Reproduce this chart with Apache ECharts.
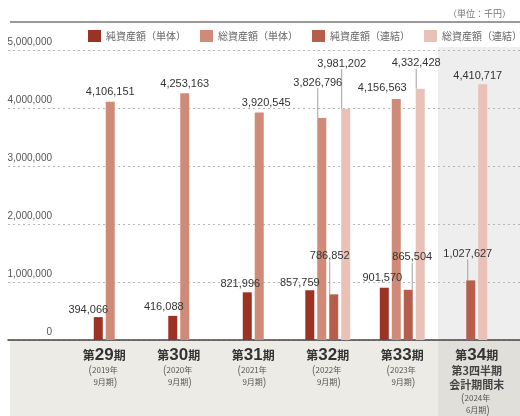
<!DOCTYPE html>
<html>
<head>
<meta charset="utf-8">
<title>純資産額・総資産額</title>
<script src="https://cdn.jsdelivr.net/npm/echarts@6/dist/echarts.min.js"></script>
<style>
  html, body { margin: 0; padding: 0; background: #fff; }
  #main { width: 520px; height: 416px; }
</style>
</head>
<body>
<div id="main"></div>
<script>
var periods = ['29', '30', '31', '32', '33', '34'];
var periodYears = ['2019年', '2020年', '2021年', '2022年', '2023年', '2024年'];
var periodMonths = ['9月期', '9月期', '9月期', '9月期', '9月期', '6月期'];
var periodNotes = ['', '', '', '', '', '第3四半期\n会計期間末'];
var seriesNames = ['純資産額（単体）', '総資産額（単体）', '純資産額（連結）', '総資産額（連結）'];
var netSingle = [394066, 416088, 821996, 857759, 901570, null];
var totalSingle = [4106151, 4253163, 3920545, 3826796, 4156563, null];
var netConsol = [null, null, null, 786852, 865504, 1027627];
var totalConsol = [null, null, null, 3981202, 4332428, 4410717];

var colors = ['#9c3224', '#cf8b78', '#b65d4b', '#e9c1b6'];

// label nudges [dx, dy] per series / period, and which get a guide line
var labelShift = [
    [[-10, 0], [-9, -1], [-7, -1], [-10, 0], [-2, -2], null],
    [[0, -2], [0, -2], [7, -2], [-4, -28], [-14, -3], null],
    [null, null, null, [-4, -31], [4, -25], [-3, -19]],
    [null, null, null, [-4, -38], [-4, -18], [-5, -1]]
];
var leaders = [
    [0, 0, 0, 0, 0, 0],
    [0, 0, 0, 1, 0, 0],
    [0, 0, 0, 1, 1, 1],
    [0, 0, 0, 1, 1, 0]
];

var fourSlot = periods.map(function (p, i) {
    return netSingle[i] != null && netConsol[i] != null;
});

function fmt(v) {
    return String(v).replace(/\B(?=(\d{3})+(?!\d))/g, ',');
}

function makeSeries(k, values, axis) {
    var shift = labelShift[k];
    var lead = leaders[k];
    return {
        type: 'bar',
        name: seriesNames[k],
        xAxisIndex: axis,
        yAxisIndex: 0,
        stack: axis === 0 ? (k % 2 === 0 ? 'net' : 'total') : undefined,
        barWidth: 9,
        barGap: '33%',
        itemStyle: { color: colors[k] },
        data: values.map(function (v, i) {
            return {
                value: fourSlot[i] === (axis === 1) ? v : null,
                labelLine: { show: !!lead[i] }
            };
        }),
        label: {
            show: true,
            position: 'top',
            distance: 2,
            color: '#333',
            fontSize: 11,
            fontFamily: 'Liberation Sans, sans-serif',
            formatter: function (p) { return fmt(p.value); }
        },
        labelLayout: function (p) {
            var s = shift[p.dataIndex] || [0, 0];
            return { dx: s[0], dy: s[1] };
        },
        labelLine: { lineStyle: { color: '#a0a0a0', width: 1 } }
    };
}

var valueLists = [netSingle, totalSingle, netConsol, totalConsol];
var series = [];
[0, 1].forEach(function (axis) {
    valueLists.forEach(function (vals, k) {
        series.push(makeSeries(k, vals, axis));
    });
});

var chart = echarts.init(document.getElementById('main'));

chart.setOption({
    animation: false,
    textStyle: { fontFamily: 'Noto Sans CJK JP, sans-serif' },
    title: {
        text: '（単位：千円）',
        right: 4,
        top: 4,
        textStyle: { fontSize: 9, fontWeight: 'normal', color: '#777' }
    },
    legend: {
        data: seriesNames,
        left: 83,
        top: 25,
        width: 437,
        itemWidth: 13,
        itemHeight: 12,
        itemGap: 14,
        icon: 'rect',
        textStyle: { fontSize: 10, color: '#666' }
    },
    graphic: [
        { type: 'line', shape: { x1: 10, y1: 22, x2: 520, y2: 22 }, style: { stroke: '#9a9a9a', lineWidth: 2 }, z: -1, silent: true },
        { type: 'rect', shape: { x: 10, y: 340, width: 510, height: 76 }, style: { fill: '#ecebe6' }, z: -1, silent: true },
        { type: 'rect', shape: { x: 438, y: 47, width: 82, height: 293 }, style: { fill: '#eeeeee' }, z: -1, silent: true },
        { type: 'rect', shape: { x: 438, y: 340, width: 82, height: 76 }, style: { fill: '#e0dfda' }, z: -1, silent: true }
    ],
    grid: [
        { left: 67, right: 6, top: 50, bottom: 76 },
        { left: 8, right: 0, top: 50, bottom: 76 }
    ],
    xAxis: [
        {
            type: 'category',
            gridIndex: 0,
            data: periods,
            axisLine: { show: false },
            axisTick: { show: false },
            axisLabel: {
                interval: 0,
                margin: 6,
                verticalAlign: 'top',
                formatter: function (v, i) {
                    var lines = ['{a|第}{b|' + v + '}{a|期}'];
                    if (periodNotes[i]) {
                        periodNotes[i].split('\n').forEach(function (t) { lines.push('{c|' + t + '}'); });
                    }
                    lines.push('{p|(}{s|' + periodYears[i] + '}{p| }');
                    lines.push('{p| }{s|' + periodMonths[i] + '}{p|)}');
                    return lines.join('\n');
                },
                rich: {
                    a: { fontSize: 12, fontWeight: 'bold', color: '#333', lineHeight: 18 },
                    b: { fontSize: 17, fontWeight: 'bold', color: '#333', lineHeight: 18, fontFamily: 'Liberation Sans, sans-serif' },
                    c: { fontSize: 11, fontWeight: 'bold', color: '#444', lineHeight: 14 },
                    s: { fontSize: 8, color: '#555', lineHeight: 12 },
                    p: { fontSize: 11, color: '#666', lineHeight: 12 }
                }
            }
        },
        { type: 'category', gridIndex: 0, data: periods, show: false },
        {
            type: 'value',
            gridIndex: 1,
            axisLine: { show: true, lineStyle: { color: '#444', width: 1.5 } },
            axisTick: { show: false },
            axisLabel: { show: false },
            splitLine: { show: false }
        }
    ],
    yAxis: [
        { type: 'value', gridIndex: 0, min: 0, max: 5000000, interval: 1000000, show: false },
        {
            type: 'value',
            gridIndex: 1,
            min: 0,
            max: 5000000,
            interval: 1000000,
            axisLine: { show: false },
            axisTick: { show: false },
            axisLabel: {
                inside: true,
                margin: 44,
                align: 'right',
                verticalAlign: 'bottom',
                padding: [0, 0, 3, 0],
                color: '#555',
                fontSize: 10,
                fontFamily: 'Liberation Sans, sans-serif',
                formatter: function (v) { return fmt(v); }
            },
            splitLine: { lineStyle: { color: '#b5b5b5', type: [2, 3], width: 1.2 } }
        }
    ],
    series: series
});

window.addEventListener('resize', chart.resize);
</script>
</body>
</html>
